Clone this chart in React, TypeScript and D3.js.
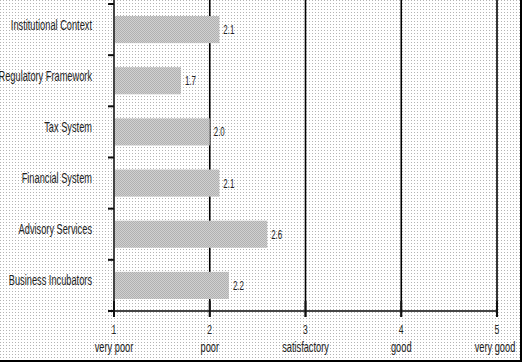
import * as d3 from "d3";

const categories = [
  "Institutional Context",
  "Regulatory Framework",
  "Tax System",
  "Financial System",
  "Advisory Services",
  "Business Incubators",
];
const scores = [2.1, 1.7, 2.0, 2.1, 2.6, 2.2];
const tickValues = [1, 2, 3, 4, 5];
const tickNames = ["very poor", "poor", "satisfactory", "good", "very good"];

const width = 522;
const height = 362;
const margin = { top: 4, left: 114, right: 25, bottom: 51 };
const sx = 0.66; // squeezed glyphs like the original

const App = () => {
  const bottom = height - margin.bottom;

  const xScale = d3
    .scaleLinear()
    .domain([1, 5])
    .range([margin.left, width - margin.right]);

  const yScale = d3
    .scaleBand()
    .domain(categories)
    .range([margin.top, bottom])
    .paddingInner(0.47)
    .paddingOuter(0.235);

  const step = yScale.step();
  const bounds = d3.range(categories.length + 1).map((i) => margin.top + i * step);

  const txt = (x: number, y: number) => `translate(${x},${y}) scale(${sx},1)`;

  return (
    <div style={{ position: "absolute", left: 0, top: 0 }}>
      <svg width={width} height={height} viewBox={`0 0 ${width} ${height}`} style={{ display: "block" }}>
        <defs>
          <pattern id="bg" width="3" height="3" patternUnits="userSpaceOnUse">
            <rect width="3" height="3" fill="#ffffff" />
            <rect width="1" height="1" fill="#b4b4b4" />
          </pattern>
          <pattern id="bar" width="2" height="2" patternUnits="userSpaceOnUse">
            <rect width="2" height="2" fill="#d0d0d0" />
            <rect width="1" height="1" fill="#b0b0b0" />
            <rect x="1" y="1" width="1" height="1" fill="#b0b0b0" />
          </pattern>
        </defs>
        <rect width={width} height={height} fill="url(#bg)" />

        {/* grid lines */}
        <g className="grid">
          {tickValues.slice(1).map((t) => (
            <line key={t} x1={xScale(t)} x2={xScale(t)} y1={0} y2={bottom + 6} stroke="#000" strokeWidth={1.6} />
          ))}
        </g>

        {/* bars */}
        <g className="bars">
          {categories.map((c, i) => (
            <rect
              key={c}
              x={xScale(1)}
              y={yScale(c)}
              width={xScale(scores[i]) - xScale(1)}
              height={yScale.bandwidth()}
              fill="url(#bar)"
            />
          ))}
        </g>

        {/* value labels */}
        <g className="values" fontFamily="Liberation Sans, Arial, sans-serif" fontSize={12} fill="#222">
          {categories.map((c, i) => (
            <text key={c} transform={txt(xScale(scores[i]) + 4, (yScale(c) ?? 0) + yScale.bandwidth() / 2 + 4.5)}>
              {scores[i].toFixed(1)}
            </text>
          ))}
        </g>

        {/* y axis */}
        <g className="y-axis">
          <line x1={margin.left} x2={margin.left} y1={0} y2={bottom} stroke="#444" strokeWidth={2} />
          {bounds.map((b, i) => (
            <line key={i} x1={margin.left - 6} x2={margin.left} y1={b} y2={b} stroke="#111" strokeWidth={2} />
          ))}
          {categories.map((c) => (
            <text
              key={c}
              transform={txt(92, (yScale(c) ?? 0) + yScale.bandwidth() / 2)}
              textAnchor="end"
              fontFamily="Liberation Sans, Arial, sans-serif"
              fontSize={14}
              fill="#222"
            >
              {c}
            </text>
          ))}
        </g>

        {/* x axis */}
        <g className="x-axis">
          <line x1={margin.left} x2={xScale(5)} y1={bottom} y2={bottom} stroke="#444" strokeWidth={2} />
          {tickValues.map((t, i) => (
            <g key={t}>
              <line x1={xScale(t)} x2={xScale(t)} y1={bottom - 10} y2={bottom + 6} stroke="#111" strokeWidth={2} />
              <text
                transform={txt(xScale(t), 334)}
                textAnchor="middle"
                fontFamily="Liberation Sans, Arial, sans-serif"
                fontSize={13}
                fill="#222"
              >
                {t}
              </text>
              <text
                transform={txt(i === tickValues.length - 1 ? xScale(t) - 2 : xScale(t), 352)}
                textAnchor="middle"
                fontFamily="Liberation Sans, Arial, sans-serif"
                fontSize={14}
                fill="#222"
              >
                {tickNames[i]}
              </text>
            </g>
          ))}
        </g>

        {/* frame */}
        <rect x={0} y={height - 2} width={width} height={2} fill="#000" />
        <rect x={width - 2} y={0} width={2} height={height} fill="#000" />
      </svg>
    </div>
  );
};

export default App;
